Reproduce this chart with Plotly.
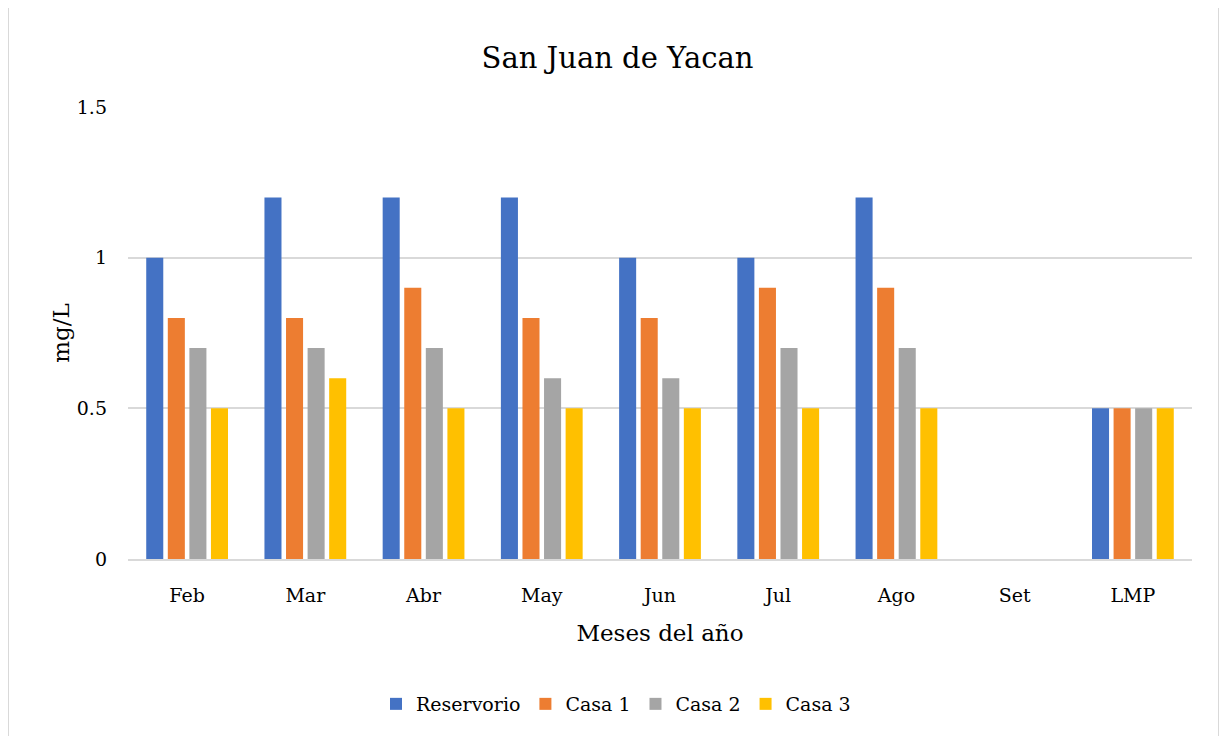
import plotly.graph_objects as go

months = ["Feb", "Mar", "Abr", "May", "Jun", "Jul", "Ago", "Set", "LMP"]
reservorio = [1.0, 1.2, 1.2, 1.2, 1.0, 1.0, 1.2, None, 0.5]
casa1 = [0.8, 0.8, 0.9, 0.8, 0.8, 0.9, 0.9, None, 0.5]
casa2 = [0.7, 0.7, 0.7, 0.6, 0.6, 0.7, 0.7, None, 0.5]
casa3 = [0.5, 0.6, 0.5, 0.5, 0.5, 0.5, 0.5, None, 0.5]

series = [("Reservorio", reservorio, "#4472C4"),
          ("Casa 1", casa1, "#ED7D31"),
          ("Casa 2", casa2, "#A5A5A5"),
          ("Casa 3", casa3, "#FFC000")]

fig = go.Figure()
for name, vals, col in series:
    fig.add_trace(go.Bar(x=months, y=vals, name=name, marker_color=col,
                         marker_line_width=0))

OFF = 8  # page body margin
W, H = 1219, 728
l, r, t, b = 128 - OFF, 35, 107 - OFF, 177
pw, ph = W - l - r, H - t - b

def px_x(x):
    return (x - OFF - l) / pw

def px_y(y):
    return (H - b - (y - OFF)) / ph

font = "DejaVu Serif"
fig.update_layout(
    width=W, height=H,
    margin=dict(l=l, r=r, t=t, b=b),
    paper_bgcolor="white", plot_bgcolor="white",
    font=dict(family=font, size=19, color="#000000"),
    title=dict(text="San Juan de Yacan", x=0.5, xanchor="center",
               y=1 - (58 - OFF) / H, yanchor="middle",
               font=dict(family=font, size=29, color="#000000")),
    barmode="group", bargap=0.27, bargroupgap=0.21,
    legend=dict(orientation="h", x=px_x(616), xanchor="center",
                y=px_y(704), yanchor="middle",
                font=dict(family=font, size=19), traceorder="normal",
                itemwidth=30),
    xaxis=dict(title=dict(text="Meses del año", font=dict(family=font, size=23), standoff=20),
               showline=True, linecolor="#D9D9D9", linewidth=2,
               ticks="", tickfont=dict(family=font, size=19), ticklabelstandoff=18),
    yaxis=dict(title=dict(text="mg/L", font=dict(family=font, size=23), standoff=0),
               range=[0, 1.5], dtick=0.5, showgrid=True, gridcolor="#D9D9D9",
               gridwidth=1.5, zeroline=False, tickfont=dict(family=font, size=19),
               ticklabelstandoff=20),
    shapes=[dict(type="rect", xref="paper", yref="paper",
                 x0=px_x(8), x1=px_x(1219), y0=px_y(745), y1=px_y(7),
                 line=dict(color="#D9D9D9", width=2), layer="below")],
)

fig.write_html("out.html")
